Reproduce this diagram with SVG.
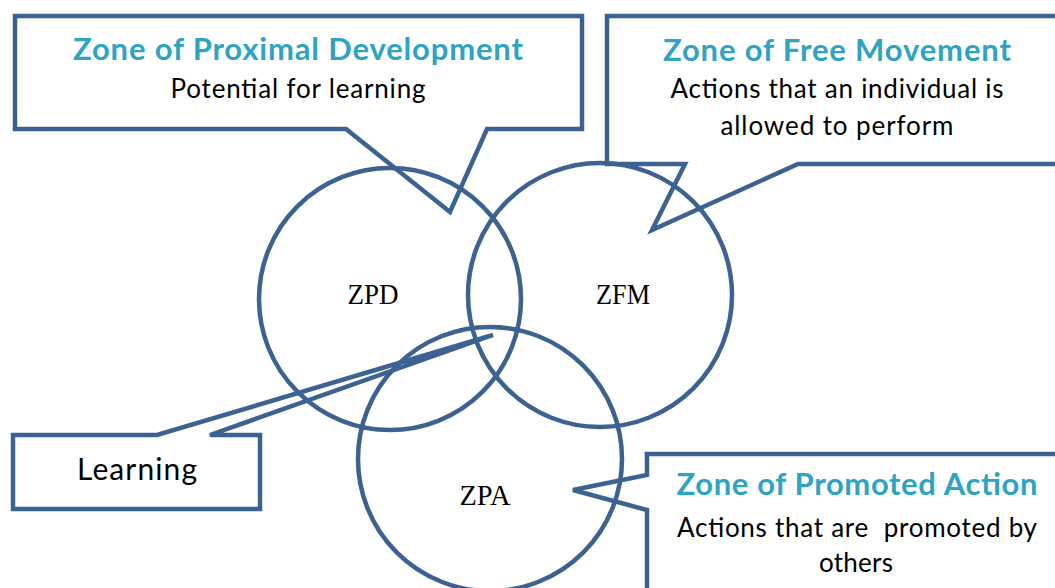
<svg xmlns="http://www.w3.org/2000/svg" width="1055" height="588" viewBox="0 0 1055 588">
<style>
.shape{fill:none;stroke:#3C6291;stroke-width:4.5;stroke-linejoin:miter}
.box{fill:#ffffff;stroke:#3C6291;stroke-width:4.5;stroke-linejoin:miter}
.title{font-family:Lato,"Open Sans",sans-serif;font-weight:bold;font-size:31px;fill:#2EA4C2;text-anchor:middle}
.body{font-family:Lato,"Open Sans",sans-serif;font-size:26px;fill:#000;text-anchor:middle}
.lbl{font-family:"Liberation Serif",serif;font-size:30px;fill:#000;text-anchor:middle}
</style>
<rect width="1055" height="588" fill="#ffffff"/>
<g id="connectors">
<path class="box" d="M15,16 H582 V129 H487 L450,212 L346,129 H15 Z"/>
<path class="box" d="M607,16 H1062 V164 H798 L652,230 L685,164 H607 Z"/>
<path class="box" d="M13,435 H157 L493,335 L210,435 H260 V509 H13 Z"/>
<path class="box" d="M647,454 H1062 V600 H647 V510 L573,490 L647,475 Z"/>
</g>
<g id="zpd">
<circle class="shape" cx="390" cy="299" r="131"/>
<text class="lbl" x="373" y="304" textLength="51" lengthAdjust="spacingAndGlyphs">ZPD</text>
</g>
<g id="zfm">
<circle class="shape" cx="600" cy="295" r="132"/>
<text class="lbl" x="623" y="304" textLength="54" lengthAdjust="spacingAndGlyphs">ZFM</text>
</g>
<g id="zpa">
<circle class="shape" cx="490" cy="459" r="132"/>
<text class="lbl" x="485" y="505" textLength="51" lengthAdjust="spacingAndGlyphs">ZPA</text>
</g>
<g id="callout-zpd">
<text class="title" x="298" y="60" textLength="450">Zone of Proximal Development</text>
<text class="body" x="298" y="98" textLength="255">Potential for learning</text>
</g>
<g id="callout-zfm">
<text class="title" x="837" y="61" textLength="348">Zone of Free Movement</text>
<text class="body" x="837" y="98" textLength="333">Actions that an individual is</text>
<text class="body" x="837" y="135" textLength="233">allowed to perform</text>
</g>
<g id="callout-zpa">
<text class="title" x="857" y="495" textLength="361">Zone of Promoted Action</text>
<text class="body" x="857" y="537" textLength="360" xml:space="preserve">Actions that are  promoted by</text>
<text class="body" x="856" y="572" textLength="74">others</text>
</g>
<g id="callout-learning">
<text class="body" x="137" y="480" style="font-size:30px" textLength="120">Learning</text>
</g>
</svg>
